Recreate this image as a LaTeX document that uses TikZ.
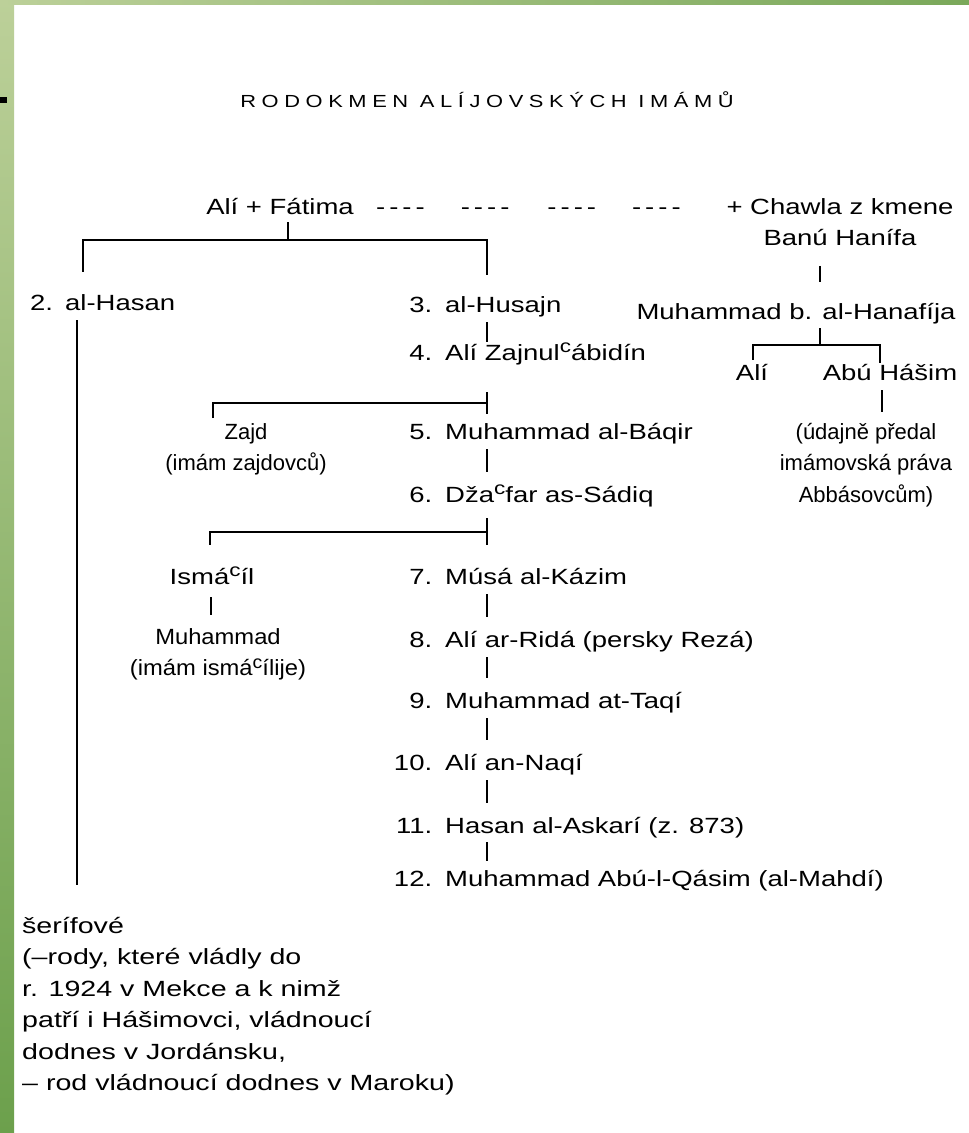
\documentclass[tikz,border=0pt]{standalone}
\usepackage{fontspec}
\setmainfont{Liberation Sans}[FakeStretch=1.25]
\newfontfamily\titlef{Liberation Sans}[FakeStretch=1.25,LetterSpace=32]
\newfontfamily\narrowf{Liberation Sans}
\newfontfamily\midf{Liberation Sans}[FakeStretch=1.08]
\newfontfamily\widef{Liberation Sans}[FakeStretch=1.3]
\definecolor{glight}{RGB}{188,208,153}
\definecolor{gdark}{RGB}{108,160,76}
\definecolor{gmid}{RGB}{122,168,90}
\newcommand\tstrut{\rule{0pt}{20pt}}
\newcommand\bstrut{\rule[-6pt]{0pt}{6pt}}
\newcommand\supc{\raisebox{7.5pt}{\fontsize{18}{18}\selectfont c}}
\begin{document}
\begin{tikzpicture}[x=1pt,y=-1pt,
  every node/.style={inner sep=0pt},
  txt/.style={font=\fontsize{22}{31.5}\selectfont, text height=15pt, text depth=5pt},
  mtxt/.style={font=\fontsize{22}{31.5}\selectfont},
  ln/.style={line width=2.6pt},
  bar/.style={ln, shorten <=5pt, shorten >=15pt}]
\useasboundingbox (0,0) rectangle (969,1133);
\fill[white] (0,0) rectangle (969,1133);
\shade[top color=glight, bottom color=gdark] (0,0) rectangle (14,1133);
\shade[left color=glight, right color=gmid] (0,0) rectangle (969,4);
\fill[black] (0,97) rectangle (7,103);

% coordinates
\coordinate (spine) at (487,0);
\coordinate (afj) at (288,240);
\coordinate (hx) at (83,0);
\coordinate (lx) at (77,0);
\coordinate (cx) at (820,0);
\coordinate (hj) at (820,345);
\coordinate (bx) at (880,0);
\coordinate (ax) at (753,0);
\coordinate (ux) at (882,0);
\coordinate (zx) at (213,0);
\coordinate (ix) at (210,0);
\coordinate (mx) at (211,0);
\coordinate (j45) at (487,403);
\coordinate (j67) at (487,532);

% title
\node[anchor=base, font=\titlef\fontsize{17.5}{20}\selectfont] (title) at (487,107) {RODOKMEN ALÍJOVSKÝCH IMÁMŮ};

% top row
\node[txt, anchor=base] (af) at (280,214) {Alí + Fátima};
\node[txt, anchor=base west] (dashes) at (376,214) {-\kern4pt-\kern4pt-\kern4pt-\hspace{36pt}-\kern4pt-\kern4pt-\kern4pt-\hspace{38pt}-\kern4pt-\kern4pt-\kern4pt-\hspace{36pt}-\kern4pt-\kern4pt-\kern4pt-};
\node[mtxt, align=center, anchor=north] (chawla) at (840,194) {\tstrut+ Chawla z kmene\\Banú Hanífa\bstrut};

% left branch
\node[txt, anchor=base west] (hasan) at (30,310) {2.\hspace{12pt}al-Hasan};
\node[mtxt, font=\widef\fontsize{22}{31.5}\selectfont, align=left, anchor=north west] (serif) at (22,913) {\tstrut šerífové\\(–rody, které vládly do\\r. 1924 v Mekce a k nimž\\patří i Hášimovci, vládnoucí\\dodnes v Jordánsku,\\– rod vládnoucí dodnes v Maroku)};

% main column
\node[txt, anchor=base west] (i3) at (400,312) {\makebox[32pt][r]{3.}\hspace{13pt}al-Husajn};
\node[txt, anchor=base west] (i4) at (400,360) {\makebox[32pt][r]{4.}\hspace{13pt}Alí Zajnul\supc ábidín};
\node[txt, anchor=base west] (i5) at (400,439) {\makebox[32pt][r]{5.}\hspace{13pt}Muhammad al-Báqir};
\node[txt, anchor=base west] (i6) at (400,502) {\makebox[32pt][r]{6.}\hspace{13pt}Dža\supc far as-Sádiq};
\node[txt, anchor=base west] (i7) at (400,584) {\makebox[32pt][r]{7.}\hspace{13pt}Músá al-Kázim};
\node[txt, anchor=base west] (i8) at (400,647) {\makebox[32pt][r]{8.}\hspace{13pt}Alí ar-Ridá (persky Rezá)};
\node[txt, anchor=base west] (i9) at (400,708) {\makebox[32pt][r]{9.}\hspace{13pt}Muhammad at-Taqí};
\node[txt, anchor=base west] (i10) at (400,770) {\makebox[32pt][r]{10.}\hspace{13pt}Alí an-Naqí};
\node[txt, anchor=base west] (i11) at (400,833) {\makebox[32pt][r]{11.}\hspace{13pt}Hasan al-Askarí (z. 873)};
\node[txt, anchor=base west] (i12) at (400,886) {\makebox[32pt][r]{12.}\hspace{13pt}Muhammad Abú-l-Qásim (al-Mahdí)};

% side branches
\node[mtxt, font=\narrowf\fontsize{22}{31.5}\selectfont, align=center, anchor=north] (zajd) at (246,419) {\tstrut Zajd\\(imám zajdovců)};
\node[txt, anchor=base] (ism) at (212,584) {Ismá\supc íl};
\node[mtxt, font=\midf\fontsize{22}{31.5}\selectfont, align=center, anchor=north] (mism) at (218,624) {\tstrut Muhammad\\(imám ismá\supc ílije)};

% right branch
\node[txt, anchor=base] (hanaf) at (796,319) {Muhammad b. al-Hanafíja};
\node[txt, anchor=base] (ali2) at (752,380) {Alí};
\node[txt, anchor=base] (abu) at (890,380) {Abú Hášim};
\node[mtxt, font=\narrowf\fontsize{22}{31.5}\selectfont, align=center, anchor=north] (udajne) at (866,419) {\tstrut(údajně předal\\imámovská práva\\Abbásovcům)};

% connectors
\draw[ln, shorten <=3pt] (af.south -| afj) -- (afj);
\draw[ln, shorten <=23pt, shorten >=22pt] (hasan.north -| hx) |- (afj) -| (i3.north -| spine);
\draw[ln, shorten <=5pt, shorten >=28pt] (hasan.south -| lx) -- (serif.north -| lx);

\draw[ln, shorten <=5pt, shorten >=3pt] (i3.south -| spine) -- (i4.north -| spine);
\draw[ln, shorten <=27pt, shorten >=10pt] (i4.south -| spine) -- (i5.north -| spine);
\draw[ln, shorten <=1pt] (zajd.north -| zx) |- (j45);
\draw[bar] (i5.south -| spine) -- (i6.north -| spine);
\draw[ln, shorten <=11pt, shorten >=24pt] (i6.south -| spine) -- (i7.north -| spine);
\draw[ln, shorten <=24pt] (ism.north -| ix) |- (j67);
\draw[ln, shorten <=8pt, shorten >=9pt] (ism.south -| mx) -- (mism.north -| mx);
\draw[bar] (i7.south -| spine) -- (i8.north -| spine);
\draw[bar] (i8.south -| spine) -- (i9.north -| spine);
\draw[bar] (i9.south -| spine) -- (i10.north -| spine);
\draw[bar] (i10.south -| spine) -- (i11.north -| spine);
\draw[ln, shorten <=4pt, shorten >=10pt] (i11.south -| spine) -- (i12.north -| spine);

\draw[ln, shorten <=14pt, shorten >=22pt] (chawla.south -| cx) -- (hanaf.north -| cx);
\draw[ln, shorten <=4pt] (hanaf.south -| hj) -- (hj);
\draw[ln, shorten <=5pt, shorten >=2pt] (ali2.north -| ax) |- (hj) -| (abu.north -| bx);
\draw[ln, shorten <=5pt, shorten >=7pt] (abu.south -| ux) -- (udajne.north -| ux);
\end{tikzpicture}
\end{document}
